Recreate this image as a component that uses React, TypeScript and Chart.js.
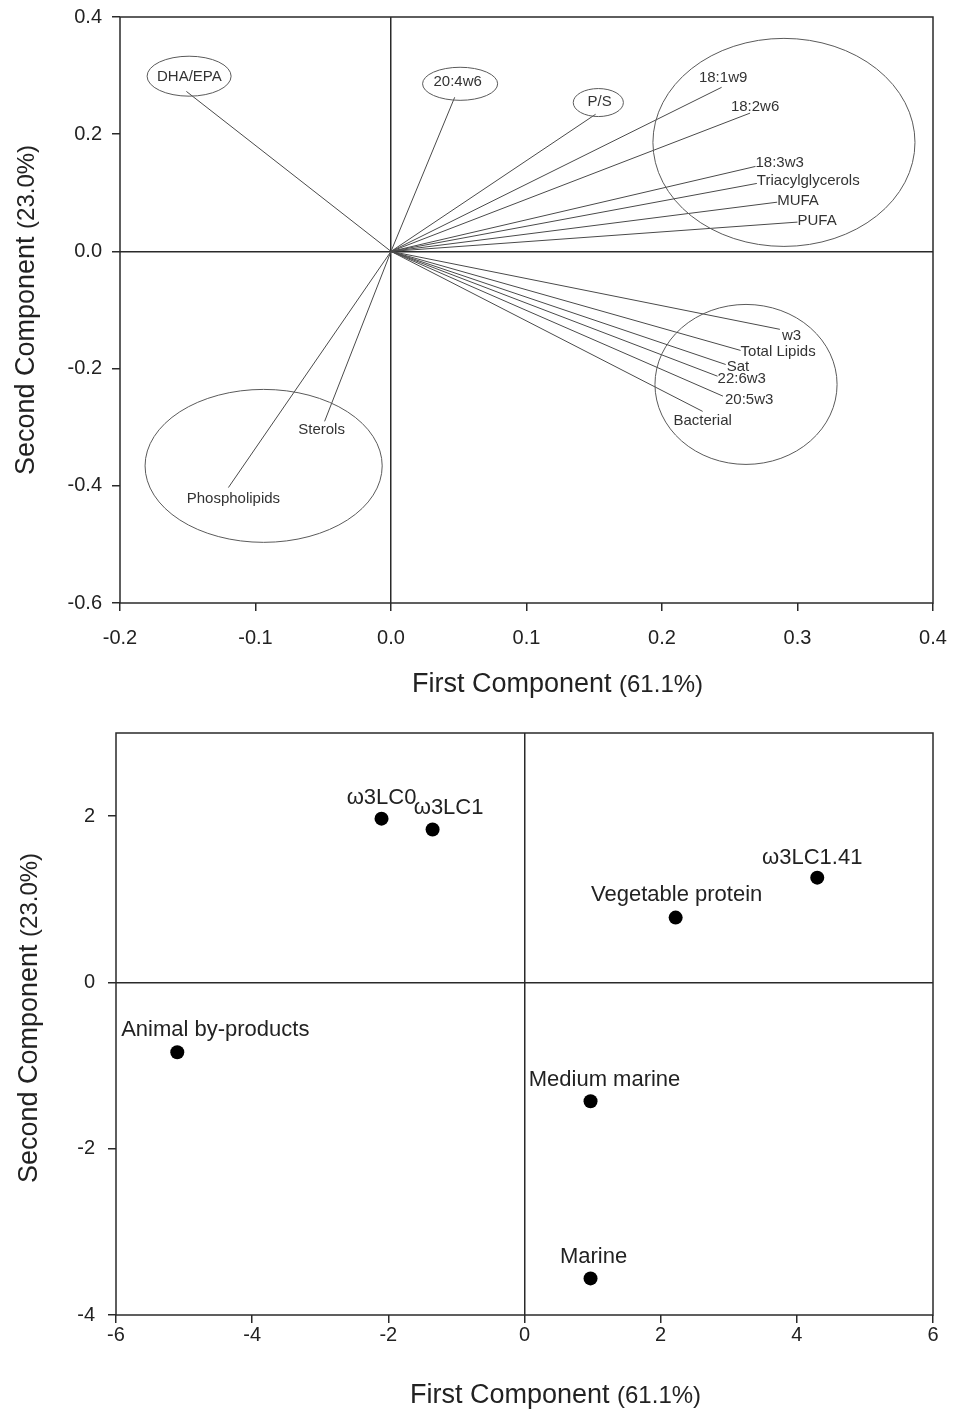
import React, { useEffect, useRef } from 'react';
import { Chart, registerables } from 'chart.js';

Chart.register(...registerables);

// ---------------- Top chart: loadings (vectors) ----------------
const loadingNames = [
  'DHA/EPA', '20:4w6', 'P/S', '18:1w9', '18:2w6', '18:3w3', 'Triacylglycerols', 'MUFA', 'PUFA',
  'w3', 'Total Lipids', 'Sat', '22:6w3', '20:5w3', 'Bacterial', 'Sterols', 'Phospholipids',
];
const loadingX = [-0.151, 0.047, 0.151, 0.244, 0.265, 0.269, 0.270, 0.285, 0.300, 0.287, 0.258, 0.247, 0.241, 0.245, 0.230, -0.049, -0.120];
const loadingY = [0.273, 0.263, 0.234, 0.280, 0.236, 0.145, 0.116, 0.084, 0.050, -0.133, -0.169, -0.193, -0.213, -0.247, -0.273, -0.290, -0.403];

// grouping ellipses (data units)
const ellipseCx = [0.290, 0.262, -0.094, -0.149, 0.051, 0.153];
const ellipseCy = [0.186, -0.227, -0.366, 0.299, 0.286, 0.254];
const ellipseRx = [0.0967, 0.0672, 0.0875, 0.031, 0.0277, 0.0185];
const ellipseRy = [0.1775, 0.1365, 0.1305, 0.0341, 0.0282, 0.0239];

const loadingXTicks = [-0.2, -0.1, 0.0, 0.1, 0.2, 0.3, 0.4];
const loadingYTicks = [-0.6, -0.4, -0.2, 0.0, 0.2, 0.4];

// ---------------- Bottom chart: scores ----------------
const sampleNames = ['ω3LC0', 'ω3LC1', 'ω3LC1.41', 'Vegetable protein', 'Animal by-products', 'Medium marine', 'Marine'];
const scoreX = [-2.10, -1.35, 4.30, 2.22, -5.10, 0.97, 0.97];
const scoreY = [1.97, 1.84, 1.26, 0.78, -0.84, -1.43, -3.56];

const scoreXTicks = [-6, -4, -2, 0, 2, 4, 6];
const scoreYTicks = [-4, -2, 0, 2];

const xTitleMain = 'First Component';
const xTitleParen = '(61.1%)';
const yTitleMain = 'Second Component';
const yTitleParen = '(23.0%)';

// ---------------- styling (label placement, px) ----------------
type Place = { align: CanvasTextAlign; dx: number; dy: number };
const loadingLabelPlace: Place[] = [
  { align: 'center', dx: 3, dy: -15 },
  { align: 'center', dx: 3, dy: -15 },
  { align: 'center', dx: 4, dy: -12 },
  { align: 'center', dx: 1.5, dy: -9 },
  { align: 'center', dx: 5, dy: -6 },
  { align: 'left', dx: 0, dy: -3.5 },
  { align: 'left', dx: 0, dy: -2.5 },
  { align: 'left', dx: 0, dy: -1.5 },
  { align: 'left', dx: 0, dy: -1.5 },
  { align: 'left', dx: 2, dy: 7 },
  { align: 'left', dx: 0, dy: 1.5 },
  { align: 'left', dx: 1, dy: 2 },
  { align: 'left', dx: 0, dy: 3 },
  { align: 'left', dx: 2, dy: 4 },
  { align: 'center', dx: 0, dy: 9 },
  { align: 'center', dx: -3, dy: 9 },
  { align: 'center', dx: 5, dy: 11 },
];
const sampleLabelPlace: Place[] = [
  { align: 'center', dx: 0, dy: -21 },
  { align: 'center', dx: 16, dy: -22 },
  { align: 'center', dx: -5, dy: -20 },
  { align: 'center', dx: 1, dy: -23 },
  { align: 'center', dx: 38, dy: -22 },
  { align: 'center', dx: 14, dy: -21 },
  { align: 'center', dx: 3, dy: -21 },
];

const FONT = "'Liberation Sans', Arial, Helvetica, sans-serif";
const AXIS_COLOR = '#2a2a2a';
const TEXT_COLOR = '#222';

const isZero = (ctx: any) => !!ctx.tick && Math.abs(ctx.tick.value) < 1e-9;

function makeScales(opts: {
  xMin: number; xMax: number; yMin: number; yMax: number;
  xTicks: number[]; yTicks: number[]; fmt: (v: number) => string;
  xHeight: number; yWidth: number; xTickPad: number; yTickPad: number;
}) {
  const grid = {
    color: (ctx: any) => (isZero(ctx) ? AXIS_COLOR : 'rgba(0,0,0,0)'),
    lineWidth: 1.5,
    tickColor: AXIS_COLOR,
    tickWidth: 1.5,
    tickLength: 8,
    drawOnChartArea: true,
  };
  const zeroPad = (s: any) => {
    s.paddingLeft = 0; s.paddingRight = 0; s.paddingTop = 0; s.paddingBottom = 0;
  };
  return {
    x: {
      type: 'linear',
      min: opts.xMin,
      max: opts.xMax,
      afterBuildTicks: (s: any) => { s.ticks = opts.xTicks.map((v) => ({ value: v })); },
      afterFit: (s: any) => { s.height = opts.xHeight; zeroPad(s); },
      ticks: {
        callback: (v: any) => opts.fmt(Number(v)),
        font: { family: FONT, size: 20 },
        color: TEXT_COLOR,
        padding: opts.xTickPad,
        maxRotation: 0,
        autoSkip: false,
      },
      grid,
      border: { display: false },
      title: { display: false },
    },
    y: {
      type: 'linear',
      min: opts.yMin,
      max: opts.yMax,
      afterBuildTicks: (s: any) => { s.ticks = opts.yTicks.map((v) => ({ value: v })); },
      afterFit: (s: any) => { s.width = opts.yWidth; zeroPad(s); },
      ticks: {
        callback: (v: any) => opts.fmt(Number(v)),
        font: { family: FONT, size: 20 },
        color: TEXT_COLOR,
        padding: opts.yTickPad,
        autoSkip: false,
      },
      grid,
      border: { display: false },
      title: { display: false },
    },
  };
}

const framePlugin = {
  id: 'frame',
  afterDatasetsDraw(chart: any) {
    const { ctx, chartArea: a } = chart;
    ctx.save();
    ctx.strokeStyle = AXIS_COLOR;
    ctx.lineWidth = 1.5;
    ctx.strokeRect(a.left, a.top, a.right - a.left, a.bottom - a.top);
    ctx.restore();
  },
};

// Axis titles: main words slightly larger than the percentage in brackets
function drawTwoPart(ctx: CanvasRenderingContext2D, main: string, paren: string, cx: number, baseline: number, rot: number) {
  const fMain = `27px ${FONT}`;
  const fParen = `24px ${FONT}`;
  ctx.save();
  ctx.translate(cx, baseline);
  ctx.rotate(rot);
  ctx.font = fMain;
  const wMain = ctx.measureText(main + ' ').width;
  ctx.font = fParen;
  const wParen = ctx.measureText(paren).width;
  const start = -(wMain + wParen) / 2;
  ctx.fillStyle = TEXT_COLOR;
  ctx.textAlign = 'left';
  ctx.textBaseline = 'alphabetic';
  ctx.font = fMain;
  ctx.fillText(main, start, 0);
  ctx.font = fParen;
  ctx.fillText(paren, start + wMain, 0);
  ctx.restore();
}

function titlePlugin(xShift: number, xBaseline: number, yBaselineX: number, yShift: number) {
  return {
    id: 'axisTitles',
    afterDraw(chart: any) {
      const { ctx, chartArea: a } = chart;
      drawTwoPart(ctx, xTitleMain, xTitleParen, (a.left + a.right) / 2 + xShift, xBaseline, 0);
      drawTwoPart(ctx, yTitleMain, yTitleParen, yBaselineX, (a.top + a.bottom) / 2 + yShift, -Math.PI / 2);
    },
  };
}

const ellipsePlugin = {
  id: 'groupEllipses',
  afterDatasetsDraw(chart: any) {
    const { ctx, scales } = chart;
    const xs = scales.x, ys = scales.y;
    ctx.save();
    ctx.strokeStyle = '#5a5a5a';
    ctx.lineWidth = 1;
    for (let i = 0; i < ellipseCx.length; i++) {
      const cx = xs.getPixelForValue(ellipseCx[i]);
      const cy = ys.getPixelForValue(ellipseCy[i]);
      const rx = Math.abs(xs.getPixelForValue(ellipseCx[i] + ellipseRx[i]) - cx);
      const ry = Math.abs(ys.getPixelForValue(ellipseCy[i] + ellipseRy[i]) - cy);
      ctx.beginPath();
      ctx.ellipse(cx, cy, rx, ry, 0, 0, Math.PI * 2);
      ctx.stroke();
    }
    ctx.restore();
  },
};

function labelPlugin(id: string, getPoint: (chart: any, i: number) => { x: number; y: number },
  names: string[], place: Place[], size: number, color: string) {
  return {
    id,
    afterDatasetsDraw(chart: any) {
      const { ctx } = chart;
      ctx.save();
      ctx.font = `${size}px ${FONT}`;
      ctx.fillStyle = color;
      ctx.textBaseline = 'middle';
      names.forEach((name, i) => {
        const p = getPoint(chart, i);
        const pl = place[i];
        ctx.textAlign = pl.align;
        ctx.fillText(name, p.x + pl.dx, p.y + pl.dy);
      });
      ctx.restore();
    },
  };
}

function LoadingsChart() {
  const ref = useRef<HTMLCanvasElement | null>(null);
  useEffect(() => {
    if (!ref.current) return;
    const datasets = loadingNames.map((name, i) => ({
      label: name,
      data: [{ x: 0, y: 0 }, { x: loadingX[i], y: loadingY[i] }],
      showLine: true,
      borderColor: '#4a4a4a',
      borderWidth: 1,
      pointRadius: 0,
      pointHoverRadius: 0,
    }));
    const chart = new Chart(ref.current, {
      type: 'scatter',
      data: { datasets },
      options: {
        responsive: false,
        animation: false,
        devicePixelRatio: 1,
        events: [],
        layout: { padding: { top: 17, right: 23, left: 0, bottom: 0 } },
        plugins: { legend: { display: false }, tooltip: { enabled: false } },
        scales: makeScales({
          xMin: -0.2, xMax: 0.4, yMin: -0.6, yMax: 0.4,
          xTicks: loadingXTicks, yTicks: loadingYTicks,
          fmt: (v) => v.toFixed(1),
          xHeight: 103, yWidth: 120, xTickPad: 15, yTickPad: 10,
        }) as any,
      },
      plugins: [
        framePlugin,
        ellipsePlugin,
        labelPlugin('loadingLabels', (c, i) => c.getDatasetMeta(i).data[1], loadingNames, loadingLabelPlace, 15, '#333'),
        titlePlugin(31, 692, 34, 0),
      ],
    });
    return () => chart.destroy();
  }, []);
  return <canvas ref={ref} width={956} height={706} style={{ display: 'block' }} />;
}

function ScoresChart() {
  const ref = useRef<HTMLCanvasElement | null>(null);
  useEffect(() => {
    if (!ref.current) return;
    const chart = new Chart(ref.current, {
      type: 'scatter',
      data: {
        datasets: [{
          label: 'Diets',
          data: scoreX.map((x, i) => ({ x, y: scoreY[i] })),
          pointRadius: 7,
          pointHoverRadius: 7,
          pointBackgroundColor: '#000',
          pointBorderColor: '#000',
          pointBorderWidth: 0,
        }],
      },
      options: {
        responsive: false,
        animation: false,
        devicePixelRatio: 1,
        events: [],
        layout: { padding: { top: 27, right: 23, left: 0, bottom: 0 } },
        plugins: { legend: { display: false }, tooltip: { enabled: false } },
        scales: makeScales({
          xMin: -6, xMax: 6, yMin: -4, yMax: 3,
          xTicks: scoreXTicks, yTicks: scoreYTicks,
          fmt: (v) => String(v),
          xHeight: 97, yWidth: 116, xTickPad: 0, yTickPad: 13,
        }) as any,
      },
      plugins: [
        framePlugin,
        labelPlugin('sampleLabels', (c, i) => c.getDatasetMeta(0).data[i], sampleNames, sampleLabelPlace, 22, TEXT_COLOR),
        titlePlugin(31, 697, 37, -6),
      ],
    });
    return () => chart.destroy();
  }, []);
  return <canvas ref={ref} width={956} height={706} style={{ display: 'block' }} />;
}

export default function App() {
  return (
    <div style={{ position: 'absolute', left: 0, top: 0, width: 956, height: 1412, overflow: 'hidden', background: '#fff' }}>
      <LoadingsChart />
      <ScoresChart />
    </div>
  );
}
